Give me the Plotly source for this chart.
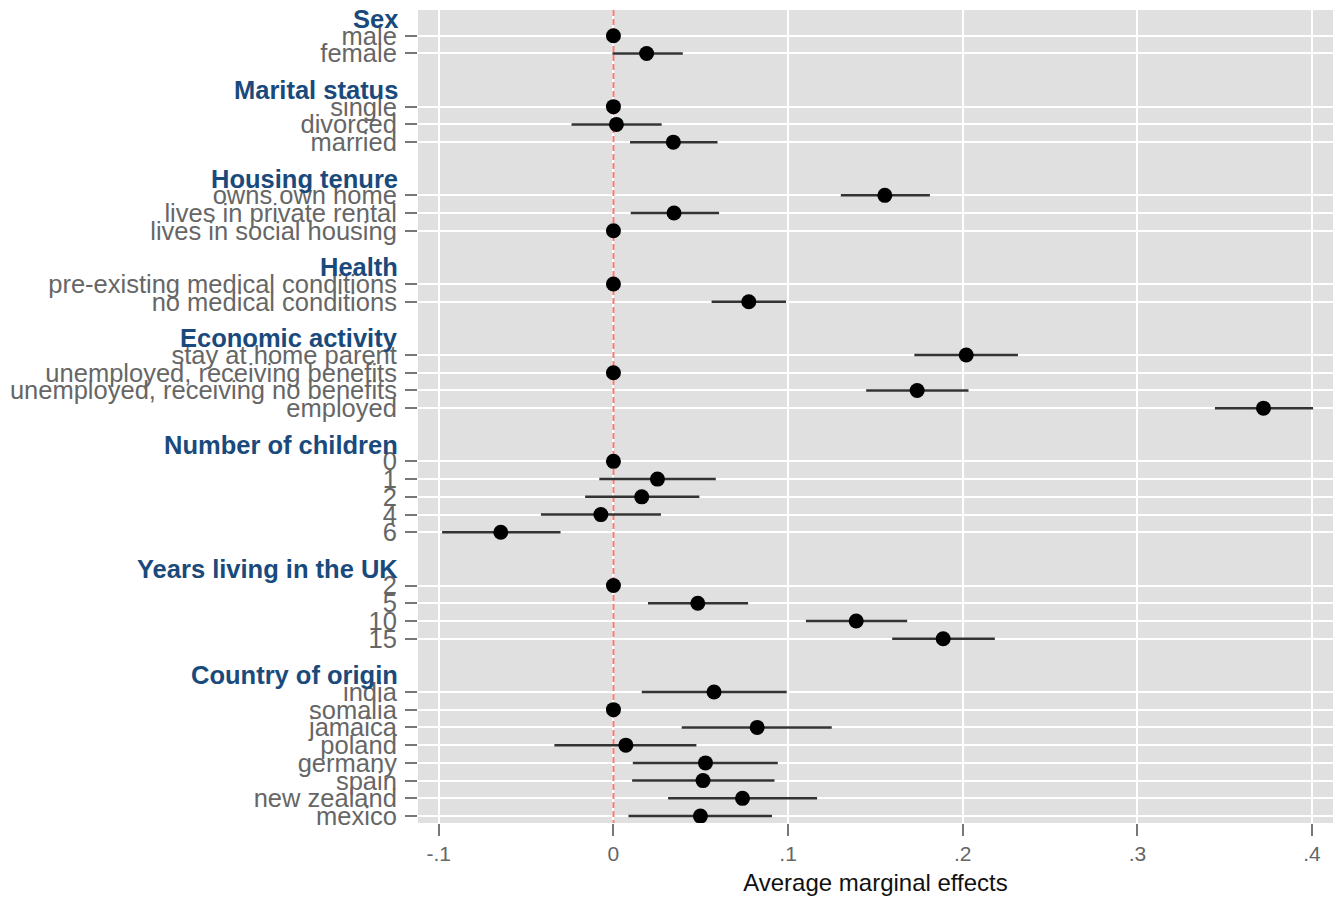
import plotly.graph_objects as go

# ---- data ----
groups = ["Sex", "Marital status", "Housing tenure", "Health", "Economic activity",
          "Number of children", "Years living in the UK", "Country of origin"]
group_sizes = [2, 3, 3, 2, 4, 5, 4, 8]
labels = ["male", "female",
          "single", "divorced", "married",
          "owns own home", "lives in private rental", "lives in social housing",
          "pre-existing medical conditions", "no medical conditions",
          "stay at home parent", "unemployed, receiving benefits",
          "unemployed, receiving no benefits", "employed",
          "0", "1", "2", "4", "6",
          "2", "5", "10", "15",
          "india", "somalia", "jamaica", "poland", "germany", "spain",
          "new zealand", "mexico"]
estimate = [0.0, 0.0190,
            0.0, 0.0017, 0.0343,
            0.1554, 0.0347, 0.0,
            0.0, 0.0775,
            0.2020, 0.0, 0.1739, 0.3722,
            0.0, 0.0252, 0.0162, -0.0072, -0.0645,
            0.0, 0.0483, 0.1390, 0.1888,
            0.0576, 0.0, 0.0823, 0.0071, 0.0527, 0.0513, 0.0739, 0.0498]
ci_low = [0.0, -0.0006,
          0.0, -0.0240, 0.0095,
          0.1302, 0.0099, 0.0,
          0.0, 0.0562,
          0.1723, 0.0, 0.1447, 0.3444,
          0.0, -0.0081, -0.0162, -0.0415, -0.0981,
          0.0, 0.0198, 0.1102, 0.1596,
          0.0162, 0.0, 0.0391, -0.0338, 0.0111, 0.0107, 0.0313, 0.0086]
ci_high = [0.0, 0.0397,
           0.0, 0.0276, 0.0596,
           0.1812, 0.0605, 0.0,
           0.0, 0.0988,
           0.2316, 0.0, 0.2033, 0.4006,
           0.0, 0.0586, 0.0492, 0.0272, -0.0303,
           0.0, 0.0771, 0.1682, 0.2184,
           0.0992, 0.0, 0.1250, 0.0475, 0.0941, 0.0922, 0.1166, 0.0908]
x_tickvals = [-0.1, 0, 0.1, 0.2, 0.3, 0.4]
x_ticktext = ["-.1", "0", ".1", ".2", ".3", ".4"]
reference_x = 0.0

# ---- row layout ----
header_rows = []
item_rows = []
r = 0
for n in group_sizes:
    header_rows.append(r)
    item_rows.extend(range(r + 1, r + 1 + n))
    r += n + 2
last_row = item_rows[-1]
y_range = [last_row + 0.39, -0.45]

FONT = "Liberation Sans, Arial, Helvetica, sans-serif"
HEAD_COLOR = "#1a4a7c"
LABEL_COLOR = "#666666"

fig = go.Figure()
# reference line at zero (drawn beneath the markers)
fig.add_trace(go.Scatter(
    x=[reference_x, reference_x], y=[y_range[1], y_range[0]], mode="lines",
    line=dict(color="#f47c70", width=2, dash="6px,3px"),
    showlegend=False, hoverinfo="skip",
))
fig.add_trace(go.Scatter(
    x=estimate, y=item_rows, mode="markers",
    marker=dict(color="black", size=15),
    error_x=dict(type="data", symmetric=False,
                 array=[h - e for h, e in zip(ci_high, estimate)],
                 arrayminus=[e - l for e, l in zip(estimate, ci_low)],
                 width=0, thickness=2.5, color="#333333"),
    showlegend=False, hoverinfo="skip",
))

for g, hr in zip(groups, header_rows):
    fig.add_annotation(text="<b>%s</b>" % g, xref="paper", yref="y", x=0, y=hr,
                       xanchor="right", yanchor="middle", xshift=-18, yshift=-1,
                       showarrow=False,
                       font=dict(family=FONT, size=25.5, color=HEAD_COLOR))

# page body has an 8px margin, so the figure is sized to fit inside it
fig.update_layout(
    width=1325, height=888,
    margin=dict(l=410, r=0, t=2, b=73, autoexpand=False),
    paper_bgcolor="white", plot_bgcolor="#e0e0e0",
    font=dict(family=FONT),
    xaxis=dict(range=[-0.1119, 0.412], tickvals=x_tickvals, ticktext=x_ticktext,
               automargin=False,
               showgrid=True, gridcolor="white", gridwidth=2, zeroline=False,
               ticks="outside", ticklen=12, tickwidth=2, tickcolor="#777777",
               tickfont=dict(family=FONT, size=21, color=LABEL_COLOR),
               title=dict(text="Average marginal effects", standoff=18,
                          font=dict(family=FONT, size=24, color="#111111")),
               showline=False),
    yaxis=dict(range=y_range, tickvals=item_rows, ticktext=labels,
               automargin=False,
               showgrid=True, gridcolor="white", gridwidth=2, zeroline=False,
               ticks="outside", ticklen=12, tickwidth=2, tickcolor="#777777",
               ticklabelstandoff=3,
               tickfont=dict(family=FONT, size=25.5, color=LABEL_COLOR),
               showline=False),
)

fig.write_html("out.html")
